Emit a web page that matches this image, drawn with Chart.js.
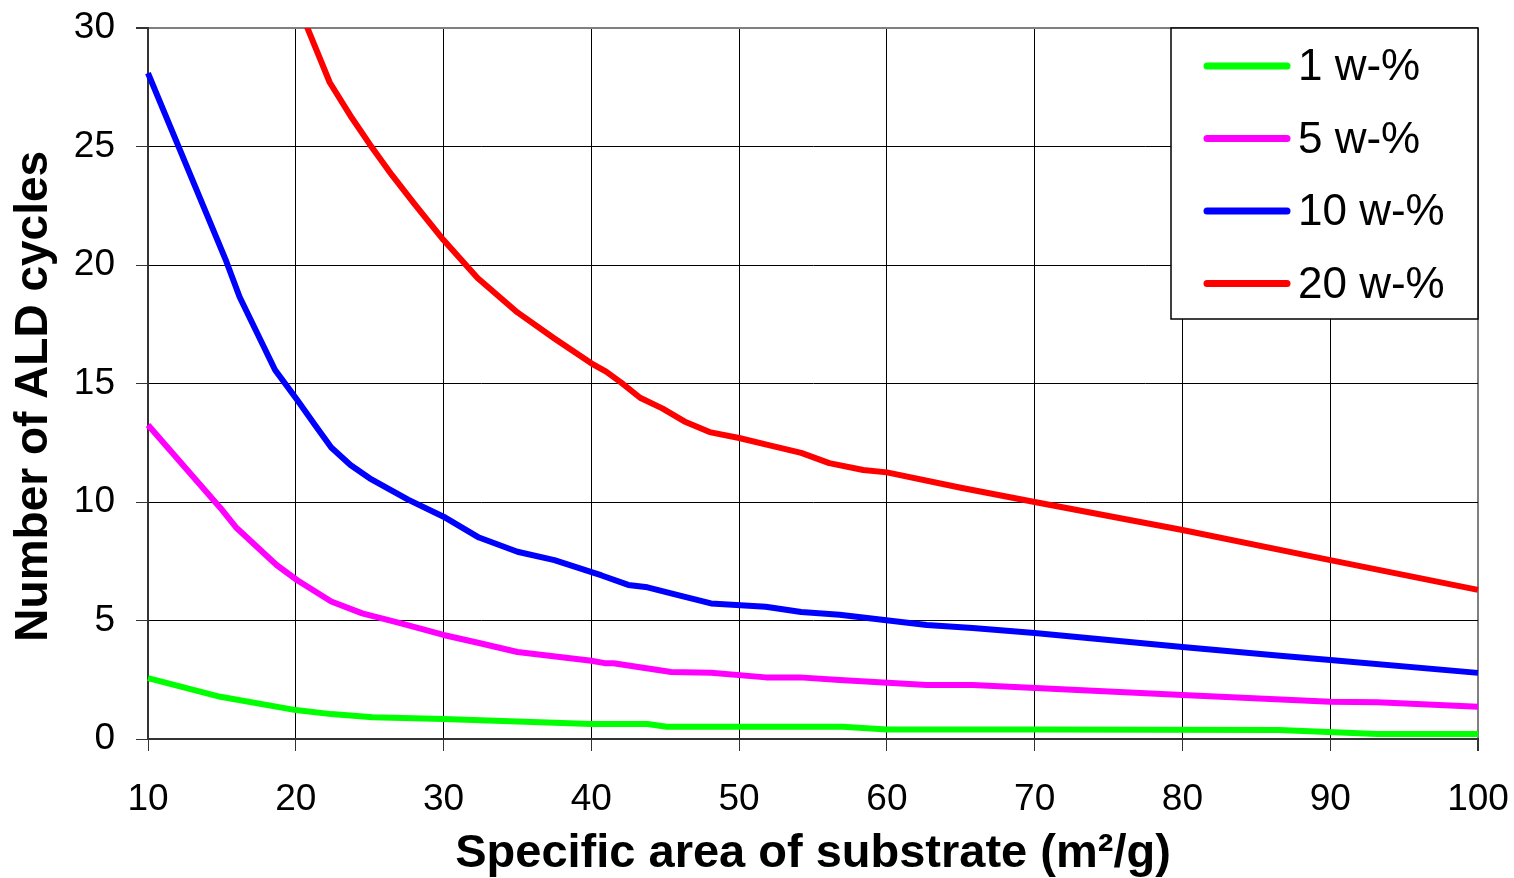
<!DOCTYPE html>
<html>
<head>
<meta charset="utf-8">
<script src="https://cdn.jsdelivr.net/npm/chart.js@4/dist/chart.umd.min.js"></script>
<style>
    body { margin: 0; background: #fff; }
    #wrap { width: 1514px; height: 878px; }
</style>
</head>
<body>
<div id="wrap"><canvas id="aldChart"></canvas></div>
<script>
// SERIES LABELS
const seriesLabels = ["1 w-%", "5 w-%", "10 w-%", "20 w-%"];

// 1 w-%
const greenX = [10, 14.9, 20, 22.4, 25.2, 30, 40, 43.8, 45.1, 57, 60, 70, 86.5, 93.2, 100];
const greenY = [2.57, 1.78, 1.22, 1.05, 0.92, 0.84, 0.63, 0.63, 0.52, 0.52, 0.4, 0.4, 0.38, 0.21, 0.21];

// 5 w-%
const magentaX = [10, 14.9, 16, 18.7, 20.1, 22.4, 24.5, 27, 30, 32.4, 35, 40, 40.9, 41.5, 45.4, 48.1, 51.8, 54.1, 56.8, 62.7, 65.8, 80, 90, 93.2, 100];
const magentaY = [13.25, 9.75, 8.9, 7.34, 6.7, 5.8, 5.3, 4.9, 4.39, 4.05, 3.67, 3.3, 3.2, 3.2, 2.83, 2.8, 2.6, 2.6, 2.49, 2.28, 2.28, 1.86, 1.57, 1.55, 1.36];

// 10 w-%
const blueX = [10, 11.4, 15.3, 16.2, 18.6, 20.1, 21.3, 22.4, 23.7, 25, 27.6, 30, 32.4, 35, 37.5, 40.7, 42.5, 43.8, 46, 48.1, 51.8, 54.2, 56.8, 62.7, 65.8, 70, 80, 86.8, 90, 100];
const blueY = [28.1, 26.0, 20.15, 18.65, 15.57, 14.3, 13.25, 12.3, 11.56, 11.0, 10.1, 9.38, 8.5, 7.9, 7.55, 6.9, 6.5, 6.4, 6.05, 5.72, 5.58, 5.36, 5.24, 4.81, 4.68, 4.47, 3.88, 3.5, 3.33, 2.79];

// 20 w-%
const redX = [20, 22.3, 23.8, 25, 26.5, 28, 30, 32.3, 35, 37.5, 40, 41, 42, 43.3, 44.8, 46.3, 48, 50, 52, 54.2, 56.1, 58.4, 60, 65, 70, 80, 90, 100];
const redY = [31.2, 27.7, 26.2, 25.1, 23.8, 22.6, 21.05, 19.45, 18.0, 16.9, 15.85, 15.5, 15.05, 14.4, 13.95, 13.4, 12.95, 12.7, 12.4, 12.07, 11.64, 11.35, 11.25, 10.6, 10.0, 8.82, 7.55, 6.29];

// AXIS TICKS
const xTicks = [10, 20, 30, 40, 50, 60, 70, 80, 90, 100];
const yTicks = [0, 5, 10, 15, 20, 25, 30];

const seriesColors = ["#00ff00", "#ff00ff", "#0000ff", "#ff0000"];

function toPoints(xs, ys) {
    return xs.map((x, i) => ({ x: x, y: ys[i] }));
}

const allSeries = [
    toPoints(greenX, greenY),
    toPoints(magentaX, magentaY),
    toPoints(blueX, blueY),
    toPoints(redX, redY)
];

// CUSTOM LEGEND BOX (top right, like the original)
const boxLegendPlugin = {
    id: "boxLegendPlugin",
    afterDraw(chart) {
        const ctx = chart.ctx;
        const area = chart.chartArea;
        const left = area.right - 307;
        const top = area.top;
        const bottom = area.top + 291;

        ctx.save();
        ctx.fillStyle = "#fff";
        ctx.fillRect(left, top, area.right - left, bottom - top);
        ctx.strokeStyle = "#000";
        ctx.lineWidth = 1.5;
        ctx.strokeRect(left, top, area.right - left, bottom - top);

        ctx.font = "44px 'Liberation Sans', Arial, sans-serif";
        ctx.textBaseline = "middle";
        ctx.lineCap = "round";
        chart.data.datasets.forEach((ds, i) => {
            const y = top + 38 + i * 72.5;
            ctx.strokeStyle = ds.borderColor;
            ctx.lineWidth = 7;
            ctx.beginPath();
            ctx.moveTo(left + 36, y);
            ctx.lineTo(left + 116, y);
            ctx.stroke();
            ctx.fillStyle = "#000";
            ctx.fillText(ds.label, left + 127, y + 2);
        });
        ctx.restore();
    }
};

// BORDER ON TOP AND RIGHT
const frameGridColor = (ctx, lastValue) =>
    ctx.tick && ctx.tick.value === lastValue ? "#808080" : "#000";

new Chart(document.getElementById("aldChart"), {
    type: "line",
    data: {
        datasets: allSeries.map((pts, i) => ({
            label: seriesLabels[i],
            data: pts,
            borderColor: seriesColors[i],
            backgroundColor: seriesColors[i],
            borderWidth: 6,
            pointRadius: 0,
            tension: 0,
            fill: false,
            borderJoinStyle: "round",
            clip: { left: 3, right: 4, top: 0, bottom: 3 }
        }))
    },
    options: {
        responsive: true,
        maintainAspectRatio: false,
        animation: false,
        devicePixelRatio: 1,
        layout: {
            padding: { top: 28, right: 36, left: 0, bottom: 0 }
        },
        plugins: {
            legend: { display: false },
            tooltip: { enabled: false }
        },
        scales: {
            x: {
                type: "linear",
                min: 10,
                max: 100,
                afterBuildTicks: (scale) => {
                    scale.ticks = xTicks.map((v) => ({ value: v }));
                },
                afterFit: (scale) => {
                    scale.height = 139;
                    scale.paddingLeft = 0;
                    scale.paddingRight = 0;
                },
                border: { color: "#333", width: 2 },
                grid: {
                    color: (ctx) => frameGridColor(ctx, 100),
                    lineWidth: (ctx) => (ctx.tick && ctx.tick.value === 100 ? 2 : 1),
                    tickLength: 12,
                    tickColor: "#333"
                },
                ticks: {
                    color: "#000",
                    padding: 27,
                    maxRotation: 0,
                    font: { family: "'Liberation Sans', Arial, sans-serif", size: 37 }
                },
                title: {
                    display: true,
                    text: "Specific area of substrate (m²/g)",
                    color: "#000",
                    padding: { top: 0, bottom: 0 },
                    font: { family: "'Liberation Sans', Arial, sans-serif", size: 47, weight: "bold", lineHeight: 1 }
                }
            },
            y: {
                min: 0,
                max: 30,
                afterBuildTicks: (scale) => {
                    scale.ticks = yTicks.map((v) => ({ value: v }));
                },
                afterFit: (scale) => {
                    scale.width = 148;
                    scale.paddingTop = 0;
                    scale.paddingBottom = 0;
                },
                border: { color: "#333", width: 2 },
                grid: {
                    color: (ctx) => frameGridColor(ctx, 30),
                    lineWidth: (ctx) => (ctx.tick && ctx.tick.value === 30 ? 2 : 1),
                    tickLength: 12,
                    tickColor: "#333"
                },
                ticks: {
                    color: "#000",
                    padding: 21,
                    font: { family: "'Liberation Sans', Arial, sans-serif", size: 37 }
                },
                title: {
                    display: true,
                    text: "Number of ALD cycles\u00a0\u00a0",
                    color: "#000",
                    padding: { top: 11, bottom: 0 },
                    font: { family: "'Liberation Sans', Arial, sans-serif", size: 46, weight: "bold", lineHeight: 1 }
                }
            }
        }
    },
    plugins: [boxLegendPlugin]
});
</script>
</body>
</html>
